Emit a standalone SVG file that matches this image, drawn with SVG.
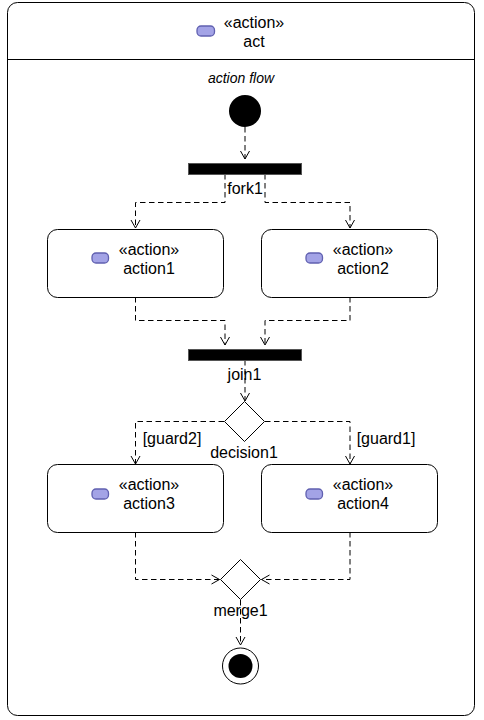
<svg xmlns="http://www.w3.org/2000/svg" width="484" height="720" viewBox="0 0 484 720">
<defs>
<marker id="arrow" viewBox="0 0 12 12" refX="9" refY="6" markerWidth="12" markerHeight="12" markerUnits="userSpaceOnUse" orient="auto">
<path d="M1 1.500 L9 6 L1 10.500" fill="none" stroke="#000" stroke-width="1"/>
</marker>
</defs>
<style>
text{font-family:"Liberation Sans",Arial,sans-serif;font-size:16px;fill:#000;text-anchor:middle}
.box{fill:#fff;stroke:#000;stroke-width:1}
.icon{fill:#a3a3e6;stroke:#6060b0;stroke-width:1.300}
.bar{fill:#000;stroke:#555;stroke-width:1}
.flow{fill:none;stroke:#000;stroke-width:1;stroke-dasharray:5.500 3.500;marker-end:url(#arrow)}
.mask{fill:#fff;stroke:none}
</style>
<rect width="484" height="720" fill="#fff"/>
<g id="act">
<rect class="box" x="7.500" y="2.500" width="467" height="713" rx="10" ry="10"/>
<line x1="7.500" y1="59.500" x2="474.500" y2="59.500" stroke="#000"/>
<rect class="icon" x="197" y="26" width="17.500" height="10" rx="4"/>
<text x="254" y="28">«action»</text>
<text x="254" y="47">act</text>
<text x="241" y="83" style="font-size:14px;font-style:italic">action flow</text>
</g>
<g id="connectors">
<path class="flow" d="M245 127V159"/>
<path class="flow" d="M225 174V202.500H135.500V228"/>
<path class="flow" d="M265 174V202.500H350V228"/>
<path class="flow" d="M135.500 297V320.500H225V345"/>
<path class="flow" d="M350 297V320.500H265V345"/>
<path class="flow" d="M245 360V401"/>
<path class="flow" d="M224 421.500H135.500V464"/>
<path class="flow" d="M265 421.500H350V464"/>
<path class="flow" d="M135.500 532V579.500H219.500"/>
<path class="flow" d="M350 532V579.500H261.500"/>
<path class="flow" d="M240.500 600V645"/>
</g>
<g id="start"><circle cx="245" cy="111" r="16" fill="#000"/></g>
<g id="fork1">
<rect class="bar" x="188.500" y="163.500" width="113" height="11"/>
<rect class="mask" x="226" y="178" width="38" height="19"/>
<text x="245" y="194">fork1</text>
</g>
<g id="action1">
<rect class="box" x="47.500" y="229.500" width="176" height="68" rx="10"/>
<rect class="icon" x="92" y="253" width="16.500" height="10" rx="4"/>
<text x="149" y="255">«action»</text>
<text x="149" y="274">action1</text>
</g>
<g id="action2">
<rect class="box" x="261.500" y="229.500" width="176" height="68" rx="10"/>
<rect class="icon" x="306" y="253" width="16.500" height="10" rx="4"/>
<text x="363" y="255">«action»</text>
<text x="363" y="274">action2</text>
</g>
<g id="join1">
<rect class="bar" x="188.500" y="349.500" width="113" height="11"/>
<text x="244.500" y="380">join1</text>
</g>
<g id="decision1">
<path d="M244.500 401.500L264.500 421.500L244.500 441.500L224.500 421.500Z" fill="#fff" stroke="#000"/>
<text x="244" y="458">decision1</text>
</g>
<text x="172" y="444">[guard2]</text>
<text x="386" y="444">[guard1]</text>
<g id="action3">
<rect class="box" x="47.500" y="464.500" width="176" height="68" rx="10"/>
<rect class="icon" x="92" y="489" width="16.500" height="10" rx="4"/>
<text x="149" y="490">«action»</text>
<text x="149" y="509">action3</text>
</g>
<g id="action4">
<rect class="box" x="261.500" y="464.500" width="176" height="68" rx="10"/>
<rect class="icon" x="306" y="489" width="16.500" height="10" rx="4"/>
<text x="363" y="490">«action»</text>
<text x="363" y="509">action4</text>
</g>
<g id="merge1">
<path d="M240.500 559.500L260.500 579.500L240.500 599.500L220.500 579.500Z" fill="#fff" stroke="#000"/>
<text x="240.500" y="616">merge1</text>
</g>
<g id="final">
<circle cx="240.500" cy="666" r="18" fill="#fff" stroke="#000"/>
<circle cx="240.500" cy="666" r="12" fill="#000"/>
</g>
</svg>
